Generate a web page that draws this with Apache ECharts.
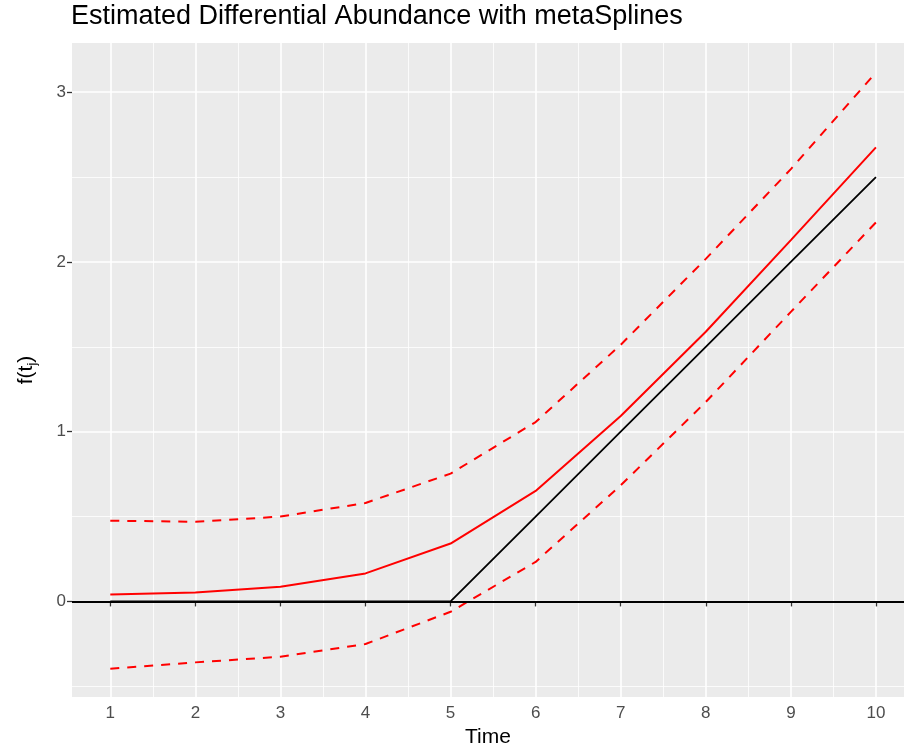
<!DOCTYPE html>
<html>
<head>
<meta charset="utf-8">
<script src="https://cdn.jsdelivr.net/npm/echarts@6/dist/echarts.min.js"></script>
<style>html,body{margin:0;padding:0;background:#fff}#c{width:904px;height:753px}</style>
</head>
<body>
<div id="c"></div>
<script>
const timeVals = [1, 2, 3, 4, 5, 6, 7, 8, 9, 10];
const estimateVals = [0.041, 0.053, 0.086, 0.165, 0.341, 0.651, 1.092, 1.589, 2.129, 2.675];
const upperVals = [0.476, 0.469, 0.500, 0.580, 0.753, 1.057, 1.512, 2.018, 2.547, 3.116];
const lowerVals = [-0.396, -0.359, -0.326, -0.251, -0.061, 0.233, 0.684, 1.175, 1.706, 2.233];
const trueVals = [0, 0, 0, 0, 0, 0.5, 1.0, 1.5, 2.0, 2.5];
const xMajorTicks = [1, 2, 3, 4, 5, 6, 7, 8, 9, 10];
const xMinorTicks = [1.5, 2.5, 3.5, 4.5, 5.5, 6.5, 7.5, 8.5, 9.5];
const yMajorTicks = [0, 1, 2, 3];
const yMinorTicks = [-0.5, 0.5, 1.5, 2.5];

const FONT = '"Liberation Sans", Arial, Helvetica, sans-serif';
const zip = (xs, ys) => xs.map((x, i) => [x, ys[i]]);

const chart = echarts.init(document.getElementById('c'), null, {renderer: 'canvas'});

const X_MIN = 0.55, X_MAX = 10.33, Y_MIN = -0.563, Y_MAX = 3.29;

const option = {
  animation: false,
  backgroundColor: '#ffffff',
  title: {
    text: 'Estimated Differential Abundance with metaSplines',
    left: 71, top: 1, padding: 0,
    textStyle: {fontFamily: FONT, fontSize: 27, fontWeight: 'normal', color: '#000', lineHeight: 32}
  },
  grid: {
    left: 72, right: 0, top: 43, bottom: 53,
    show: true, backgroundColor: '#EBEBEB', borderWidth: 0,
    containLabel: false
  },
  xAxis: [
    {
      type: 'value', min: X_MIN, max: X_MAX,
      axisLine: {show: false},
      axisTick: {show: true, length: 5, customValues: xMajorTicks, lineStyle: {color: '#333', width: 1.3}},
      axisLabel: {customValues: xMajorTicks, color: '#4D4D4D', fontSize: 17, fontFamily: FONT, margin: 8},
      splitLine: {show: true, lineStyle: {color: '#fff', width: 1.6}},
      name: 'Time', nameLocation: 'middle', nameGap: 30,
      nameTextStyle: {fontFamily: FONT, fontSize: 21, color: '#000'}
    },
    {
      type: 'value', min: X_MIN, max: X_MAX, position: 'bottom',
      axisLine: {show: false},
      axisTick: {show: false, customValues: xMinorTicks},
      axisLabel: {show: false, customValues: xMinorTicks},
      splitLine: {show: true, lineStyle: {color: '#fff', width: 0.8}}
    }
  ],
  yAxis: [
    {
      type: 'value', min: Y_MIN, max: Y_MAX,
      axisLine: {show: false},
      axisTick: {show: true, length: 5, customValues: yMajorTicks, lineStyle: {color: '#333', width: 1.3}},
      axisLabel: {customValues: yMajorTicks, color: '#4D4D4D', fontSize: 17, fontFamily: FONT, margin: 6},
      splitLine: {show: true, lineStyle: {color: '#fff', width: 1.6}},
      name: '{a|f(t}{b|j}{a|)}', nameLocation: 'middle', nameGap: 33, nameRotate: 90,
      nameTextStyle: {
        fontFamily: FONT, color: '#000',
        rich: {
          a: {fontFamily: FONT, fontSize: 21, color: '#000'},
          b: {fontFamily: FONT, fontSize: 13, color: '#000', padding: [12, 0, 0, 0]}
        }
      }
    },
    {
      type: 'value', min: Y_MIN, max: Y_MAX, position: 'left',
      axisLine: {show: false},
      axisTick: {show: false, customValues: yMinorTicks},
      axisLabel: {show: false, customValues: yMinorTicks},
      splitLine: {show: true, lineStyle: {color: '#fff', width: 0.8}}
    }
  ],
  series: [
    {
      name: 'truth', type: 'line', data: zip(timeVals, trueVals),
      symbol: 'none', lineStyle: {color: '#000', width: 1.8}, z: 3,
      markLine: {
        silent: true, symbol: 'none', label: {show: false},
        lineStyle: {color: '#000', width: 2, type: 'solid'},
        data: [{yAxis: 0}]
      }
    },
    {
      name: 'estimate', type: 'line', data: zip(timeVals, estimateVals),
      symbol: 'none', lineStyle: {color: '#FF0000', width: 2}, z: 4
    },
    {
      name: 'upper', type: 'line', data: zip(timeVals, upperVals),
      symbol: 'none', lineStyle: {color: '#FF0000', width: 2, type: [9, 8]}, z: 4
    },
    {
      name: 'lower', type: 'line', data: zip(timeVals, lowerVals),
      symbol: 'none', lineStyle: {color: '#FF0000', width: 2, type: [9, 8]}, z: 4
    }
  ]
};
chart.setOption(option);
</script>
</body>
</html>
